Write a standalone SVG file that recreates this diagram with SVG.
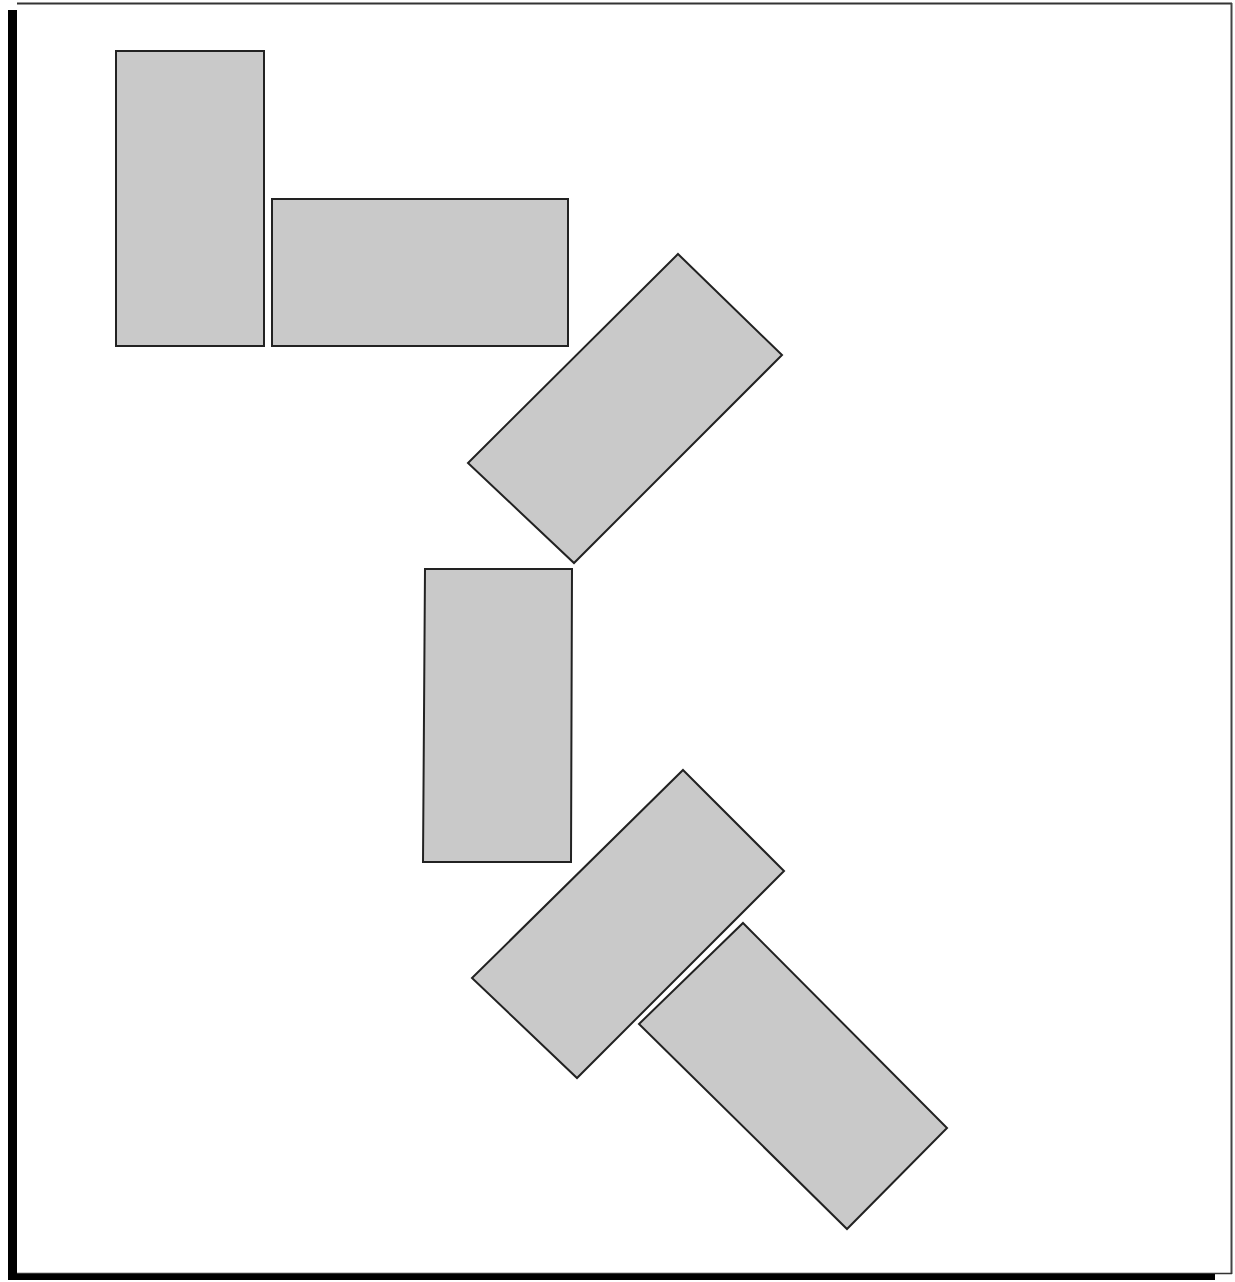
<svg xmlns="http://www.w3.org/2000/svg" width="1235" height="1282" viewBox="0 0 1235 1282">
<style>
.blk{fill:#c9c9c9;stroke:#222;stroke-width:2;stroke-linejoin:miter}
</style>
<rect x="0" y="0" width="1235" height="1282" fill="#fff"/>
<g id="frame">
<line x1="17" y1="3.5" x2="1232" y2="3.5" stroke="#333" stroke-width="2"/>
<line x1="1231.5" y1="3" x2="1231.5" y2="1274" stroke="#444" stroke-width="2"/>
<line x1="17" y1="1273.5" x2="1232" y2="1273.5" stroke="#333" stroke-width="1.5"/>
<rect x="8" y="10" width="9" height="1269" fill="#000"/>
<rect x="8" y="1274" width="1207" height="6" fill="#000"/>
</g>
<g id="block1"><polygon class="blk" points="116,51 264,51 264,346 116,346"/></g>
<g id="block2"><polygon class="blk" points="272,199 568,199 568,346 272,346"/></g>
<g id="block3"><polygon class="blk" points="678,254 782,355 574,563 468,463"/></g>
<g id="block4"><polygon class="blk" points="425,569 572,569 571,862 423,862"/></g>
<g id="block5"><polygon class="blk" points="683,770 784,871 577,1078 472,978"/></g>
<g id="block6"><polygon class="blk" points="743,923 947,1128 847,1229 639,1024"/></g>
</svg>
